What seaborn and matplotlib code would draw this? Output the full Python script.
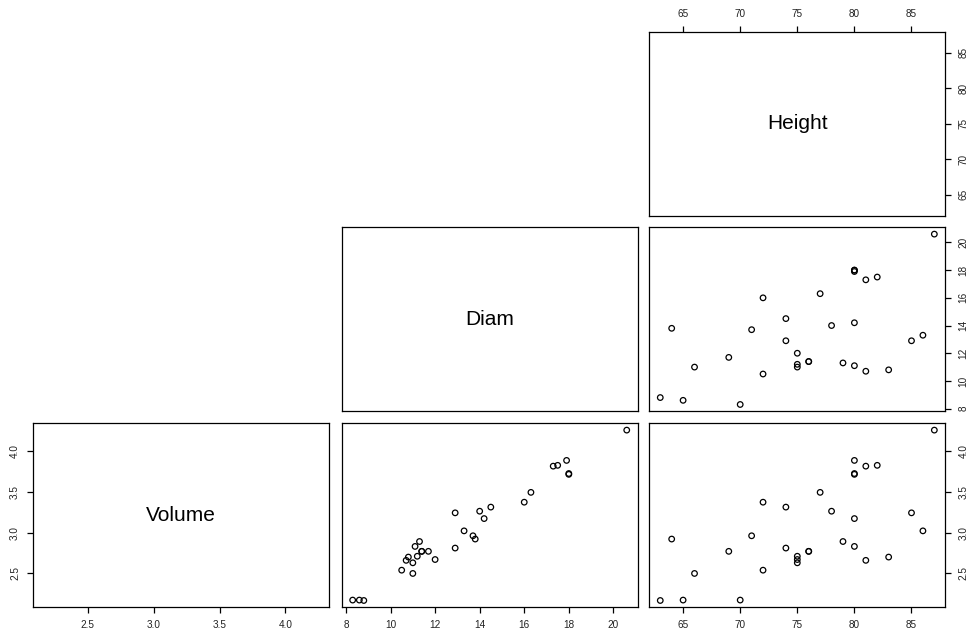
import matplotlib
matplotlib.use("Agg")
import matplotlib.pyplot as plt
import seaborn as sns
import pandas as pd

# Tree measurements: diameter, height and (log) volume
diam = [8.3, 8.6, 8.8, 10.5, 10.7, 10.8, 11.0, 11.0, 11.1, 11.2, 11.3, 11.4, 11.4,
        11.7, 12.0, 12.9, 12.9, 13.3, 13.7, 13.8, 14.0, 14.2, 14.5, 16.0, 16.3,
        17.3, 17.5, 17.9, 18.0, 18.0, 20.6]
height = [70, 65, 63, 72, 81, 83, 66, 75, 80, 75, 79, 76, 76, 69, 75, 74, 85, 86,
          71, 64, 78, 80, 74, 72, 77, 81, 82, 80, 80, 80, 87]
volume = [2.175, 2.175, 2.17, 2.54, 2.66, 2.70, 2.50, 2.63, 2.83, 2.71, 2.89, 2.77,
          2.77, 2.77, 2.67, 2.81, 3.24, 3.02, 2.96, 2.92, 3.26, 3.17, 3.31, 3.37,
          3.49, 3.81, 3.82, 3.88, 3.72, 3.71, 4.25]

variables = ["Volume", "Diam", "Height"]
ticks = {
    "Volume": [2.5, 3.0, 3.5, 4.0],
    "Diam": [8, 10, 12, 14, 16, 18, 20],
    "Height": [65, 70, 75, 80, 85],
}
tick_labels = {
    "Volume": ["2.5", "3.0", "3.5", "4.0"],
    "Diam": ["8", "10", "12", "14", "16", "18", "20"],
    "Height": ["65", "70", "75", "80", "85"],
}

df = pd.DataFrame({"Volume": volume, "Diam": diam, "Height": height})

sns.set_style("white")
plt.rcParams["font.family"] = ["Liberation Sans", "DejaVu Sans"]


def padded_range(values, frac=0.04):
    lo, hi = min(values), max(values)
    d = (hi - lo) * frac
    return lo - d, hi + d


limits = {v: padded_range(df[v]) for v in variables}

W, H = 968, 632
fig = plt.figure(figsize=(W / 100, H / 100), dpi=100)

col_left = [33.3, 341.7, 649.3]
row_top = [31.7, 227.3, 423.3]
pw, ph = 296, 184

for r in range(3):
    row_var = variables[2 - r]
    for c in range(3):
        if c < 2 - r:
            continue
        col_var = variables[c]
        ax = fig.add_axes([col_left[c] / W, 1 - (row_top[r] + ph) / H, pw / W, ph / H])
        ax.set_facecolor("white")
        if c == 2 - r:
            ax.text(0.5, 0.5, col_var, transform=ax.transAxes, ha="center",
                    va="center", fontsize=15, color="black")
        else:
            sns.scatterplot(data=df, x=col_var, y=row_var, ax=ax, marker="o",
                            facecolor="none", edgecolor="black", linewidth=0.9,
                            s=16, legend=False)
        ax.set_xlim(limits[col_var])
        ax.set_ylim(limits[row_var])
        ax.set_xticks(ticks[col_var])
        ax.set_xticklabels(tick_labels[col_var])
        ax.set_yticks(ticks[row_var])
        ax.set_yticklabels(tick_labels[row_var])
        ax.set_xlabel("")
        ax.set_ylabel("")
        for s in ax.spines.values():
            s.set_visible(True)
            s.set_color("black")
            s.set_linewidth(0.9)

        show_bottom = r == 2
        show_top = r == 0
        show_right = c == 2
        show_left = (r == 2 and c == 0)
        ax.tick_params(axis="x", bottom=show_bottom, labelbottom=show_bottom,
                       top=show_top, labeltop=show_top, direction="out",
                       length=4.5, width=0.9, color="black", labelsize=7.2,
                       labelcolor="#222222", pad=5)
        ax.tick_params(axis="y", left=show_left, labelleft=show_left,
                       right=show_right, labelright=show_right, direction="out",
                       length=4.5, width=0.9, color="black", labelsize=7.2,
                       labelcolor="#222222", pad=5)
        for lab in ax.get_yticklabels():
            lab.set_rotation(90)
            lab.set_va("center")

fig.savefig("out.png", dpi=100, facecolor="white")
